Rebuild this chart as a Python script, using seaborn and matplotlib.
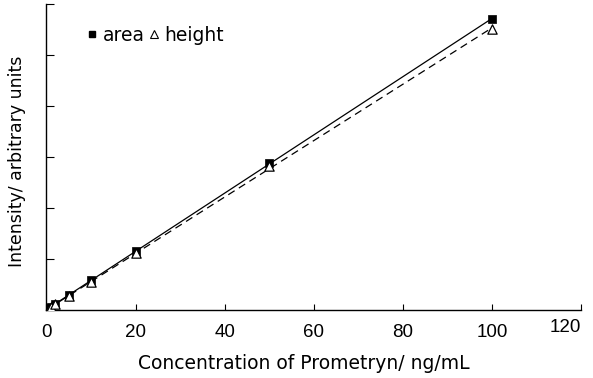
import matplotlib
matplotlib.use("Agg")
import matplotlib.pyplot as plt
import seaborn as sns
import numpy as np
import pandas as pd
from matplotlib.lines import Line2D

conc = [0.5, 1, 2, 5, 10, 20, 50, 100]
area = [0.03, 0.06, 0.12, 0.29, 0.58, 1.16, 2.88, 5.71]
height = [0.025, 0.05, 0.11, 0.27, 0.55, 1.12, 2.82, 5.51]
x_ticks = [0, 20, 40, 60, 80, 100, 120]

sns.set_theme(style="white")
plt.rcParams['font.family'] = ['DejaVu Sans']
plt.rcParams['text.color'] = 'black'
plt.rcParams['axes.labelcolor'] = 'black'
plt.rcParams['xtick.color'] = 'black'
plt.rcParams['ytick.color'] = 'black'

df = pd.DataFrame({"conc": conc, "area": area, "height": height})

fig = plt.figure(figsize=(5.93, 3.78), dpi=100)
ax = fig.add_axes([0.0784, 0.18, 0.98 - 0.0784, 0.989 - 0.18])

sns.regplot(data=df, x="conc", y="area", scatter=False, ci=None, truncate=True,
            line_kws=dict(color="black", lw=0.9, ls="-"), ax=ax)
sns.regplot(data=df, x="conc", y="height", scatter=False, ci=None, truncate=True,
            line_kws=dict(color="black", lw=0.9, ls=(0, (6, 4))), ax=ax)
sns.scatterplot(data=df, x="conc", y="area", marker="s", s=30, color="black",
                edgecolor="black", linewidth=0.5, ax=ax, zorder=3)
sns.scatterplot(data=df, x="conc", y="height", marker="^", s=45, facecolor="white",
                edgecolor="black", linewidth=0.9, ax=ax, zorder=4)

ax.set_xlim(0, 120)
ax.set_ylim(0, 6)
ax.set_xticks(x_ticks)
ax.set_xticklabels([str(t) for t in x_ticks], fontsize=13.5, family="Liberation Sans")
lbls = ax.get_xticklabels()
lbls[-1].set_horizontalalignment("right")
lbls[-1].set_y(0.015)
ax.set_yticks(range(0, 7))
ax.set_yticklabels([])
ax.tick_params(axis="both", direction="in", length=4, width=0.8, color="black",
               labelcolor="black", bottom=True, left=True, pad=10)
ax.tick_params(axis="y", length=6)
for side in ["top", "right"]:
    ax.spines[side].set_visible(False)
for side in ["left", "bottom"]:
    ax.spines[side].set_color("black")
    ax.spines[side].set_linewidth(1.0)

ax.set_xlabel("Concentration of Prometryn/ ng/mL", fontsize=13.5, color="black")
ax.set_ylabel("Intensity/ arbitrary units", fontsize=12.5, color="black")
ax.xaxis.set_label_coords(0.482, -0.145)
ax.yaxis.set_label_coords(-0.038, 0.487)

handles = [Line2D([], [], marker="s", color="black", ls="none", markersize=4),
           Line2D([], [], marker="^", markerfacecolor="white", markeredgecolor="black",
                  ls="none", markersize=5.5, markeredgewidth=0.8)]
ax.legend(handles, ["area", "height"], ncol=2, loc="upper left", bbox_to_anchor=(0.045, 0.985),
          frameon=False, handlelength=0.5, handletextpad=0.3, columnspacing=0.25,
          prop={"family": "DejaVu Sans", "size": 13.5}, labelcolor="black")

fig.savefig("out.png", dpi=100)
